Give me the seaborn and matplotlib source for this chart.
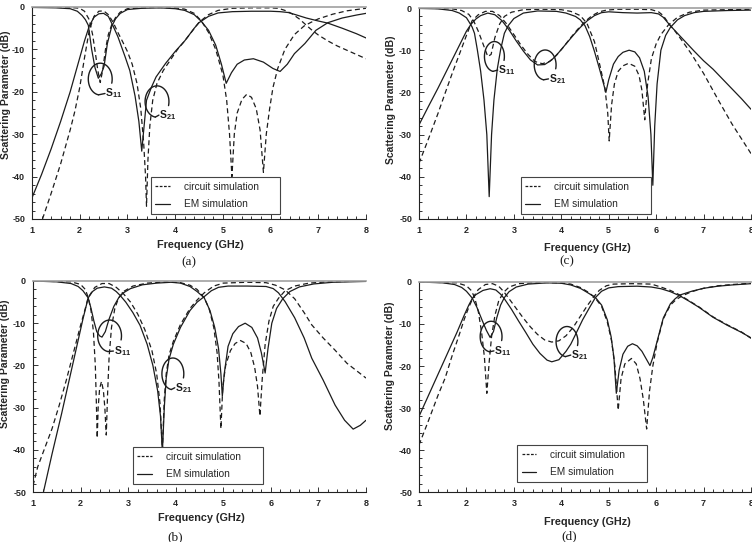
import numpy as np
import pandas as pd
import seaborn as sns
import matplotlib.pyplot as plt
from matplotlib.lines import Line2D
from matplotlib.ticker import MultipleLocator

# ---- panel (a) ----
a_s11_circ_f = [1.0, 1.6, 1.9, 2.0, 2.1, 2.2, 2.27, 2.33, 2.38, 2.43, 2.48, 2.54, 2.6, 2.67, 2.75, 2.85, 3.0, 3.5, 4.0, 4.2,
                4.4, 4.55, 4.7, 4.85, 5.0, 5.08, 5.14, 5.19, 5.24, 5.3, 5.4, 5.5, 5.6, 5.7, 5.78, 5.85, 5.91, 5.98, 6.05, 6.15,
                6.3, 6.5, 6.7, 6.85, 7.0, 7.3, 7.6, 8.0]
a_s11_circ_db = [0.0, -0.1, -0.2, -0.3, -1.0, -3.0, -6.5, -11.0, -15.0, -17.8, -15.0, -10.0, -6.5, -4.2, -2.5, -1.2, -0.4, -0.1, -0.2, -0.5,
                 -1.5, -3.3, -6.0, -10.0, -16.0, -22.0, -30.0, -40.0, -30.0, -25.0, -21.8, -20.6, -21.3, -24.0, -29.0, -39.0, -30.0, -24.0, -19.0, -14.5,
                 -10.0, -6.5, -4.5, -3.6, -2.8, -1.7, -0.9, -0.3]
a_s11_em_f = [1.0, 1.5, 1.8, 1.95, 2.05, 2.12, 2.18, 2.25, 2.32, 2.39, 2.45, 2.51, 2.58, 2.67, 2.75, 2.85, 3.0, 3.3, 3.7, 4.0,
              4.2, 4.4, 4.55, 4.7, 4.85, 4.97, 5.07, 5.18, 5.3, 5.45, 5.64, 5.85, 6.05, 6.2, 6.35, 6.5, 6.72, 6.95, 7.2, 7.5,
              7.8, 8.0]
a_s11_em_db = [-0.1, -0.2, -0.4, -1.0, -2.0, -3.0, -4.3, -10.0, -14.3, -16.8, -15.8, -14.0, -8.6, -4.6, -2.8, -1.5, -0.6, -0.3, -0.2, -0.4,
               -0.8, -1.8, -3.4, -5.5, -9.0, -13.5, -18.0, -15.5, -13.5, -12.5, -12.2, -13.0, -14.5, -15.2, -13.5, -11.0, -8.6, -5.5, -3.7, -2.6,
               -1.9, -1.5]
a_s21_circ_f = [1.22, 1.4, 1.6, 1.8, 1.9, 2.0, 2.1, 2.2, 2.3, 2.4, 2.5, 2.6, 2.7, 2.8, 2.9, 3.0, 3.1, 3.2, 3.28, 3.34,
                3.38, 3.4, 3.43, 3.47, 3.53, 3.62, 3.75, 3.9, 4.05, 4.2, 4.35, 4.5, 4.7, 4.9, 5.2, 5.6, 6.0, 6.16, 6.3, 6.45,
                6.6, 6.72, 6.85, 7.0, 7.2, 7.4, 7.6, 7.8, 8.0]
a_s21_circ_db = [-50.0, -44.0, -37.0, -29.0, -24.5, -19.0, -12.0, -5.5, -2.2, -1.0, -0.9, -1.8, -3.6, -6.0, -8.2, -10.5, -13.5, -18.0, -24.0, -32.0,
                 -40.0, -47.0, -36.0, -28.0, -22.0, -18.0, -15.0, -12.5, -10.0, -8.0, -5.8, -3.6, -1.8, -0.8, -0.3, -0.2, -0.2, -0.3, -0.8, -1.6,
                 -2.8, -4.0, -5.3, -6.6, -8.0, -9.2, -10.2, -11.2, -12.2]
a_s21_em_f = [1.0, 1.2, 1.4, 1.6, 1.8, 1.9, 2.0, 2.1, 2.2, 2.3, 2.4, 2.5, 2.6, 2.7, 2.8, 2.95, 3.05, 3.16, 3.24, 3.3,
              3.35, 3.4, 3.5, 3.6, 3.8, 4.0, 4.2, 4.4, 4.5, 4.7, 4.9, 5.2, 5.6, 6.0, 6.2, 6.37, 6.55, 6.75, 7.0, 7.2,
              7.5, 7.8, 8.0]
a_s21_em_db = [-45.0, -39.5, -33.5, -27.0, -20.0, -16.0, -12.0, -8.0, -4.5, -2.4, -1.6, -1.5, -2.2, -4.5, -7.0, -11.7, -15.0, -21.0, -27.0, -34.0,
               -28.0, -22.0, -19.0, -16.5, -13.3, -10.5, -8.0, -5.0, -3.7, -2.2, -1.4, -1.1, -1.0, -1.0, -1.1, -1.3, -1.9, -2.6, -3.3, -3.8,
               -5.0, -6.3, -7.3]

# ---- panel (c) ----
c_s11_circ_f = [1.0, 1.7, 1.9, 2.05, 2.15, 2.25, 2.35, 2.45, 2.52, 2.6, 2.7, 2.8, 2.95, 3.2, 3.6, 4.0, 4.2, 4.4, 4.54, 4.7,
                4.82, 4.92, 4.98, 5.01, 5.06, 5.12, 5.2, 5.3, 5.42, 5.55, 5.64, 5.7, 5.76, 5.82, 5.9, 6.0, 6.1, 6.26, 6.45, 6.7,
                7.0, 8.0]
c_s11_circ_db = [0.0, -0.2, -0.6, -1.5, -3.0, -5.5, -8.5, -11.5, -11.0, -7.0, -3.8, -2.0, -1.0, -0.4, -0.3, -0.4, -0.8, -1.8, -3.6, -8.0,
                 -13.9, -19.0, -25.0, -31.5, -23.0, -18.0, -15.0, -13.7, -13.1, -13.8, -16.0, -19.5, -26.5, -18.0, -12.0, -8.5, -6.3, -4.0, -2.2, -1.0,
                 -0.5, -0.3]
c_s11_em_f = [1.0, 1.4, 1.7, 1.85, 2.0, 2.05, 2.12, 2.17, 2.23, 2.3, 2.37, 2.43, 2.48, 2.53, 2.58, 2.65, 2.72, 2.8, 2.88, 3.0,
              3.2, 3.5, 3.9, 4.1, 4.3, 4.4, 4.5, 4.6, 4.7, 4.8, 4.88, 4.94, 5.0, 5.1, 5.2, 5.3, 5.43, 5.55, 5.65, 5.75,
              5.83, 5.89, 5.93, 5.97, 6.02, 6.1, 6.2, 6.3, 6.45, 6.6, 6.8, 7.0, 7.5, 8.0]
c_s11_em_db = [-0.1, -0.2, -0.6, -1.2, -2.3, -3.2, -4.5, -6.0, -9.9, -15.0, -21.8, -30.0, -44.7, -30.0, -21.8, -14.5, -9.9, -6.0, -4.2, -2.5,
               -1.2, -0.7, -0.8, -1.2, -2.0, -2.8, -4.2, -6.8, -10.3, -14.2, -17.5, -20.0, -17.0, -13.3, -11.5, -10.5, -10.0, -10.4, -11.8, -15.0,
               -21.0, -30.0, -42.0, -28.0, -18.0, -10.0, -6.5, -4.6, -2.8, -1.8, -1.1, -0.8, -0.6, -0.5]
c_s21_circ_f = [1.0, 1.2, 1.4, 1.55, 1.7, 1.85, 2.0, 2.12, 2.25, 2.4, 2.55, 2.7, 2.85, 3.0, 3.15, 3.3, 3.45, 3.6, 3.75, 3.9,
                4.05, 4.2, 4.35, 4.5, 4.65, 4.8, 4.95, 5.2, 5.6, 5.9, 6.05, 6.15, 6.26, 6.4, 6.55, 6.75, 7.0, 7.31, 7.6, 8.0]
c_s21_circ_db = [-36.8, -31.0, -25.0, -20.2, -15.5, -11.0, -6.5, -3.0, -1.6, -0.8, -0.8, -1.8, -3.8, -6.3, -8.8, -11.0, -12.7, -13.2, -12.7, -11.2,
                 -9.2, -7.0, -5.0, -3.2, -1.8, -0.9, -0.5, -0.3, -0.3, -0.4, -0.9, -1.8, -3.6, -5.5, -7.8, -11.0, -15.5, -21.8, -27.5, -34.5]
c_s21_em_f = [1.0, 1.2, 1.4, 1.6, 1.8, 2.0, 2.1, 2.2, 2.3, 2.45, 2.6, 2.75, 2.9, 3.05, 3.2, 3.35, 3.5, 3.65, 3.8, 3.95,
              4.1, 4.25, 4.4, 4.55, 4.7, 4.85, 5.0, 5.3, 5.6, 5.9, 6.05, 6.15, 6.3, 6.45, 6.6, 6.8, 7.0, 7.2, 7.5, 7.8,
              8.0]
c_s21_em_db = [-27.7, -23.3, -19.0, -14.5, -10.0, -5.5, -3.8, -2.6, -1.8, -1.2, -1.6, -3.0, -5.2, -7.8, -10.2, -12.3, -13.5, -13.4, -12.3, -10.5,
               -8.5, -6.5, -4.6, -3.0, -1.8, -1.1, -0.9, -1.1, -1.2, -1.1, -1.4, -2.2, -4.2, -6.0, -7.8, -10.2, -12.5, -14.5, -18.0, -21.5,
               -24.0]

# ---- panel (b) ----
b_s11_circ_f = [1.0, 1.8, 2.0, 2.1, 2.16, 2.22, 2.27, 2.31, 2.33, 2.35, 2.37, 2.4, 2.44, 2.48, 2.51, 2.54, 2.57, 2.6, 2.65, 2.72,
                2.8, 2.9, 3.1, 3.4, 3.8, 4.1, 4.3, 4.45, 4.6, 4.7, 4.8, 4.87, 4.91, 4.95, 4.99, 5.05, 5.15, 5.25, 5.36, 5.48,
                5.58, 5.66, 5.72, 5.77, 5.82, 5.88, 5.96, 6.05, 6.16, 6.3, 6.5, 6.8, 7.2, 8.0]
b_s11_circ_db = [0.0, -0.2, -0.8, -2.0, -3.9, -7.0, -12.0, -20.0, -28.0, -37.2, -30.0, -25.5, -23.8, -26.0, -30.0, -36.5, -26.0, -18.0, -11.0, -6.5,
                 -4.0, -2.5, -1.2, -0.5, -0.2, -0.4, -1.0, -2.0, -4.0, -6.5, -11.0, -17.0, -24.0, -35.0, -25.0, -20.0, -16.5, -14.8, -14.1, -14.8,
                 -17.0, -20.5, -25.0, -32.0, -23.0, -15.0, -9.5, -6.0, -4.1, -2.3, -1.2, -0.5, -0.2, 0.0]
b_s11_em_f = [1.0, 1.5, 1.8, 1.95, 2.05, 2.16, 2.22, 2.28, 2.34, 2.4, 2.45, 2.52, 2.6, 2.7, 2.8, 2.9, 3.05, 3.3, 3.6, 3.9,
              4.1, 4.3, 4.45, 4.6, 4.72, 4.82, 4.9, 4.95, 4.98, 5.02, 5.1, 5.2, 5.32, 5.46, 5.6, 5.72, 5.8, 5.88, 5.94, 6.02,
              6.12, 6.25, 6.4, 6.6, 6.9, 7.3, 8.0]
b_s11_em_db = [0.0, -0.2, -0.6, -1.3, -2.3, -4.0, -6.5, -9.5, -12.0, -13.0, -13.3, -12.0, -9.0, -6.0, -4.0, -2.8, -1.8, -0.9, -0.5, -0.3,
               -0.5, -1.3, -2.5, -4.0, -7.0, -11.0, -16.0, -22.0, -27.3, -22.0, -15.5, -12.5, -10.8, -10.0, -11.0, -13.5, -17.0, -21.8, -16.0, -10.0,
               -6.5, -4.2, -2.5, -1.4, -0.7, -0.3, -0.1]
b_s21_circ_f = [1.0, 1.1, 1.25, 1.4, 1.55, 1.7, 1.85, 2.0, 2.1, 2.16, 2.3, 2.45, 2.6, 2.75, 2.9, 3.05, 3.2, 3.35, 3.5, 3.6,
                3.67, 3.72, 3.76, 3.8, 3.86, 3.95, 4.1, 4.3, 4.45, 4.6, 4.8, 5.0, 5.5, 5.9, 6.1, 6.3, 6.5, 6.7, 6.86, 7.1,
                7.35, 7.6, 8.0]
b_s21_circ_db = [-48.5, -44.0, -39.5, -35.0, -29.5, -23.5, -17.0, -10.5, -6.5, -3.9, -1.5, -0.6, -0.6, -1.5, -3.0, -5.0, -7.8, -11.5, -16.5, -22.0,
                 -29.0, -40.0, -28.0, -22.0, -17.5, -14.3, -10.3, -6.5, -4.5, -2.8, -1.2, -0.5, -0.3, -0.4, -1.0, -2.1, -4.2, -7.5, -10.4, -13.5,
                 -16.4, -19.5, -23.0]
b_s21_em_f = [1.22, 1.4, 1.6, 1.8, 1.95, 2.05, 2.16, 2.25, 2.35, 2.5, 2.65, 2.75, 2.83, 2.95, 3.1, 3.25, 3.4, 3.52, 3.62, 3.68,
              3.72, 3.76, 3.8, 3.86, 3.95, 4.1, 4.3, 4.45, 4.6, 4.75, 4.9, 5.1, 5.5, 5.9, 6.05, 6.16, 6.3, 6.5, 6.7, 6.86,
              7.1, 7.35, 7.55, 7.73, 7.88, 8.0]
b_s21_em_db = [-50.0, -41.0, -31.5, -21.5, -14.0, -9.0, -4.0, -2.5, -1.7, -1.4, -1.7, -2.5, -3.4, -5.0, -7.5, -10.5, -15.0, -20.0, -26.0, -32.0,
               -40.5, -30.0, -23.0, -18.5, -15.0, -11.0, -7.0, -5.0, -3.7, -2.3, -1.5, -1.2, -1.2, -1.3, -1.8, -2.8, -4.9, -8.7, -13.5, -18.3,
               -23.5, -29.4, -33.0, -35.1, -34.2, -33.0]

# ---- panel (d) ----
d_s11_circ_f = [1.0, 1.8, 2.0, 2.1, 2.17, 2.25, 2.32, 2.38, 2.43, 2.48, 2.53, 2.6, 2.68, 2.78, 2.9, 3.1, 3.5, 4.0, 4.2, 4.4,
                4.55, 4.7, 4.85, 4.97, 5.06, 5.13, 5.2, 5.26, 5.34, 5.48, 5.58, 5.66, 5.73, 5.8, 5.86, 5.93, 6.02, 6.15, 6.3, 6.42,
                6.55, 6.75, 7.0, 7.3, 7.6, 8.0]
d_s11_circ_db = [0.0, -0.2, -0.9, -2.0, -3.6, -7.0, -12.0, -18.0, -26.5, -19.0, -13.0, -8.0, -4.5, -2.5, -1.2, -0.4, -0.1, -0.2, -0.5, -1.3,
                 -2.3, -3.6, -5.8, -9.5, -14.0, -20.0, -30.5, -23.0, -19.5, -18.2, -19.5, -23.0, -28.0, -35.0, -26.0, -20.0, -14.5, -8.8, -5.5, -4.2,
                 -3.3, -2.3, -1.5, -0.9, -0.6, -0.3]
d_s11_em_f = [1.0, 1.5, 1.75, 1.9, 2.0, 2.12, 2.22, 2.32, 2.42, 2.5, 2.57, 2.64, 2.72, 2.8, 2.9, 3.05, 3.3, 3.7, 4.0, 4.2,
              4.4, 4.55, 4.72, 4.85, 4.97, 5.05, 5.11, 5.16, 5.22, 5.3, 5.4, 5.5, 5.6, 5.7, 5.8, 5.87, 5.93, 6.0, 6.15, 6.3,
              6.4, 6.5, 6.75, 7.0, 7.3, 7.6, 8.0]
d_s11_em_db = [0.0, -0.2, -0.6, -1.3, -2.2, -3.8, -6.0, -8.8, -11.5, -13.2, -11.8, -8.5, -5.5, -3.7, -2.3, -1.2, -0.5, -0.2, -0.3, -0.7,
               -1.5, -2.5, -3.7, -5.5, -9.0, -13.0, -18.0, -26.5, -21.0, -17.2, -15.3, -14.7, -15.2, -16.5, -18.5, -19.9, -18.0, -15.0, -8.6, -5.2,
               -4.0, -3.1, -2.2, -1.5, -1.0, -0.7, -0.4]
d_s21_circ_f = [1.0, 1.2, 1.4, 1.55, 1.7, 1.85, 1.95, 2.05, 2.15, 2.25, 2.4, 2.55, 2.68, 2.78, 2.9, 3.05, 3.2, 3.35, 3.5, 3.65,
                3.8, 3.95, 4.1, 4.25, 4.4, 4.55, 4.68, 4.8, 4.95, 5.1, 5.5, 5.9, 6.1, 6.3, 6.5, 6.7, 6.9, 7.2, 7.5, 7.8,
                8.0]
d_s21_circ_db = [-38.8, -33.0, -27.0, -22.9, -17.5, -12.5, -9.0, -6.0, -3.5, -1.8, -0.6, -0.4, -1.0, -2.2, -4.0, -6.3, -8.6, -10.7, -12.5, -13.8,
                 -14.3, -14.0, -12.8, -10.8, -8.2, -5.6, -3.6, -2.0, -0.9, -0.5, -0.4, -0.5, -1.2, -2.0, -3.1, -4.5, -5.9, -8.3, -10.2, -11.9,
                 -13.4]
d_s21_em_f = [1.0, 1.2, 1.4, 1.6, 1.8, 1.95, 2.05, 2.12, 2.2, 2.35, 2.5, 2.62, 2.72, 2.8, 2.95, 3.1, 3.25, 3.4, 3.55, 3.7,
              3.8, 3.95, 4.1, 4.2, 4.3, 4.45, 4.6, 4.72, 4.85, 5.0, 5.2, 5.6, 5.9, 6.1, 6.3, 6.5, 6.7, 6.9, 7.2, 7.5,
              7.8, 8.0]
d_s21_em_db = [-32.0, -27.0, -22.0, -17.0, -12.0, -8.0, -5.5, -4.0, -3.0, -2.0, -1.6, -1.9, -2.9, -4.0, -6.5, -9.3, -12.0, -14.8, -17.0, -18.6,
               -19.0, -18.5, -16.5, -14.8, -12.5, -9.0, -6.0, -3.7, -2.2, -1.4, -1.1, -1.0, -1.2, -1.6, -2.3, -3.3, -4.6, -6.0, -8.4, -10.3,
               -12.0, -13.3]

sources = ["circuit simulation", "EM simulation"]
INK = "#1c1c1c"

sns.set_style("ticks")
plt.rcParams["font.family"] = ["Liberation Sans", "DejaVu Sans"]
plt.rcParams["axes.unicode_minus"] = False
plt.rcParams["mathtext.fontset"] = "custom"
plt.rcParams["mathtext.rm"] = "Liberation Sans:bold"
plt.rcParams["mathtext.it"] = "Liberation Sans:bold"

W, H = 752, 542
fig = plt.figure(figsize=(W / 100, H / 100), dpi=100)


def px_axes(left, top, right, bottom):
    return fig.add_axes([left / W, (H - bottom) / H, (right - left) / W, (bottom - top) / H])


def loop(ax, xc, yc, w, h, tx, ty, sub):
    # hand drawn style circle around the curves, tail runs to the S label
    t = np.deg2rad(np.linspace(-15, 262, 90))
    lx = xc + w / 2 * np.cos(t)
    ly = yc + h / 2 * np.sin(t)
    ax.plot(lx, ly, color=INK, lw=1.0, solid_capstyle="round")
    ax.plot([lx[-1], tx], [ly[-1], ty], color=INK, lw=1.0)
    ax.text(tx + 0.01, ty, "S$_{%s}$" % sub, fontsize=7.5, fontweight="bold",
            ha="left", va="center", color=INK)


def draw_panel(ax, curves, ylab_pos, xlab_pos, leg_box, loops):
    frames = []
    for f, db, param, src in curves:
        frames.append(pd.DataFrame({"freq": f, "db": db, "param": param, "source": src}))
    df = pd.concat(frames, ignore_index=True)
    sns.lineplot(data=df, x="freq", y="db", style="source", units="param", estimator=None,
                 style_order=sources, dashes={"circuit simulation": (4, 2.6), "EM simulation": ""},
                 color=INK, linewidth=0.9, legend=False, ax=ax)
    ax.set_xlim(1, 8)
    ax.set_ylim(-50, 0)
    ax.xaxis.set_major_locator(MultipleLocator(1))
    ax.xaxis.set_minor_locator(MultipleLocator(0.2))
    ax.yaxis.set_major_locator(MultipleLocator(10))
    ax.yaxis.set_minor_locator(MultipleLocator(2))
    ax.tick_params(which="both", direction="in", top=False, right=False, color="#333333", width=0.7)
    ax.tick_params(which="major", length=3.5, labelsize=6.5, pad=5)
    ax.tick_params(which="minor", length=2)
    for lbl in ax.get_xticklabels() + ax.get_yticklabels():
        lbl.set_fontweight("bold")
    ax.spines["right"].set_visible(False)
    ax.spines["top"].set_color("#a0a0a0")
    ax.spines["top"].set_linewidth(1.2)
    for s in ("left", "bottom"):
        ax.spines[s].set_color("#222222")
        ax.spines[s].set_linewidth(0.8)
    ax.set_ylabel("Scattering Parameter (dB)", fontsize=7.5, fontweight="bold")
    ax.set_xlabel("Frequency (GHz)", fontsize=7.8, fontweight="bold")
    ax.yaxis.set_label_coords(*ylab_pos)
    ax.xaxis.set_label_coords(*xlab_pos)
    handles = [Line2D([], [], color=INK, lw=0.9, dashes=(2.2, 1.2)),
               Line2D([], [], color=INK, lw=0.9)]
    leg = ax.legend(handles, sources, loc="lower left", bbox_to_anchor=leg_box, mode="expand",
                    fontsize=7.3, frameon=True, fancybox=False, framealpha=1, edgecolor="#444444",
                    borderpad=0.45, labelspacing=0.75, handlelength=1.4, handletextpad=1.4,
                    borderaxespad=0)
    leg.get_frame().set_linewidth(0.8)
    for lp in loops:
        loop(ax, *lp)


ax_a = px_axes(32, 7, 366, 219)
draw_panel(ax_a,
           [(a_s11_circ_f, a_s11_circ_db, "S11", sources[0]), (a_s21_circ_f, a_s21_circ_db, "S21", sources[0]),
            (a_s11_em_f, a_s11_em_db, "S11", sources[1]), (a_s21_em_f, a_s21_em_db, "S21", sources[1])],
           (-0.064, 0.585), (0.505, -0.1), (0.356, 0.024, 0.386, 0.17),
           [(2.43, -17.0, 0.50, 7.5, 2.53, -20.4, "11"), (3.62, -22.3, 0.50, 7.4, 3.66, -25.5, "21")])

ax_c = px_axes(419, 8, 751, 219)
draw_panel(ax_c,
           [(c_s11_circ_f, c_s11_circ_db, "S11", sources[0]), (c_s21_circ_f, c_s21_circ_db, "S21", sources[0]),
            (c_s11_em_f, c_s11_em_db, "S11", sources[1]), (c_s21_em_f, c_s21_em_db, "S21", sources[1])],
           (-0.068, 0.564), (0.506, -0.112), (0.307, 0.024, 0.392, 0.17),
           [(2.59, -11.5, 0.42, 7.1, 2.66, -14.7, "11"), (3.66, -13.5, 0.46, 7.1, 3.73, -16.8, "21")])

ax_b = px_axes(33, 281, 366, 492)
draw_panel(ax_b,
           [(b_s11_circ_f, b_s11_circ_db, "S11", sources[0]), (b_s21_circ_f, b_s21_circ_db, "S21", sources[0]),
            (b_s11_em_f, b_s11_em_db, "S11", sources[1]), (b_s21_em_f, b_s21_em_db, "S21", sources[1])],
           (-0.068, 0.61), (0.505, -0.1), (0.30, 0.038, 0.39, 0.17),
           [(2.61, -13.0, 0.50, 7.5, 2.69, -16.6, "11"), (3.94, -22.0, 0.46, 7.5, 3.98, -25.3, "21")])

ax_d = px_axes(419, 282, 751, 492)
draw_panel(ax_d,
           [(d_s11_circ_f, d_s11_circ_db, "S11", sources[0]), (d_s21_circ_f, d_s21_circ_db, "S21", sources[0]),
            (d_s11_em_f, d_s11_em_db, "S11", sources[1]), (d_s21_em_f, d_s21_em_db, "S21", sources[1])],
           (-0.071, 0.6), (0.506, -0.118), (0.295, 0.048, 0.392, 0.17),
           [(2.52, -13.0, 0.46, 7.3, 2.58, -16.4, "11"), (4.12, -14.2, 0.46, 7.2, 4.2, -17.4, "21")])

for lab, (cx, cy) in zip(["(a)", "(c)", "(b)", "(d)"], [(189, 262), (567, 261), (175, 537), (569, 536)]):
    fig.text(cx / W, 1 - cy / H, lab, ha="center", va="center", fontsize=9.5,
             family=["Liberation Serif", "DejaVu Serif"], color=INK)

fig.savefig("out.png", dpi=100)
